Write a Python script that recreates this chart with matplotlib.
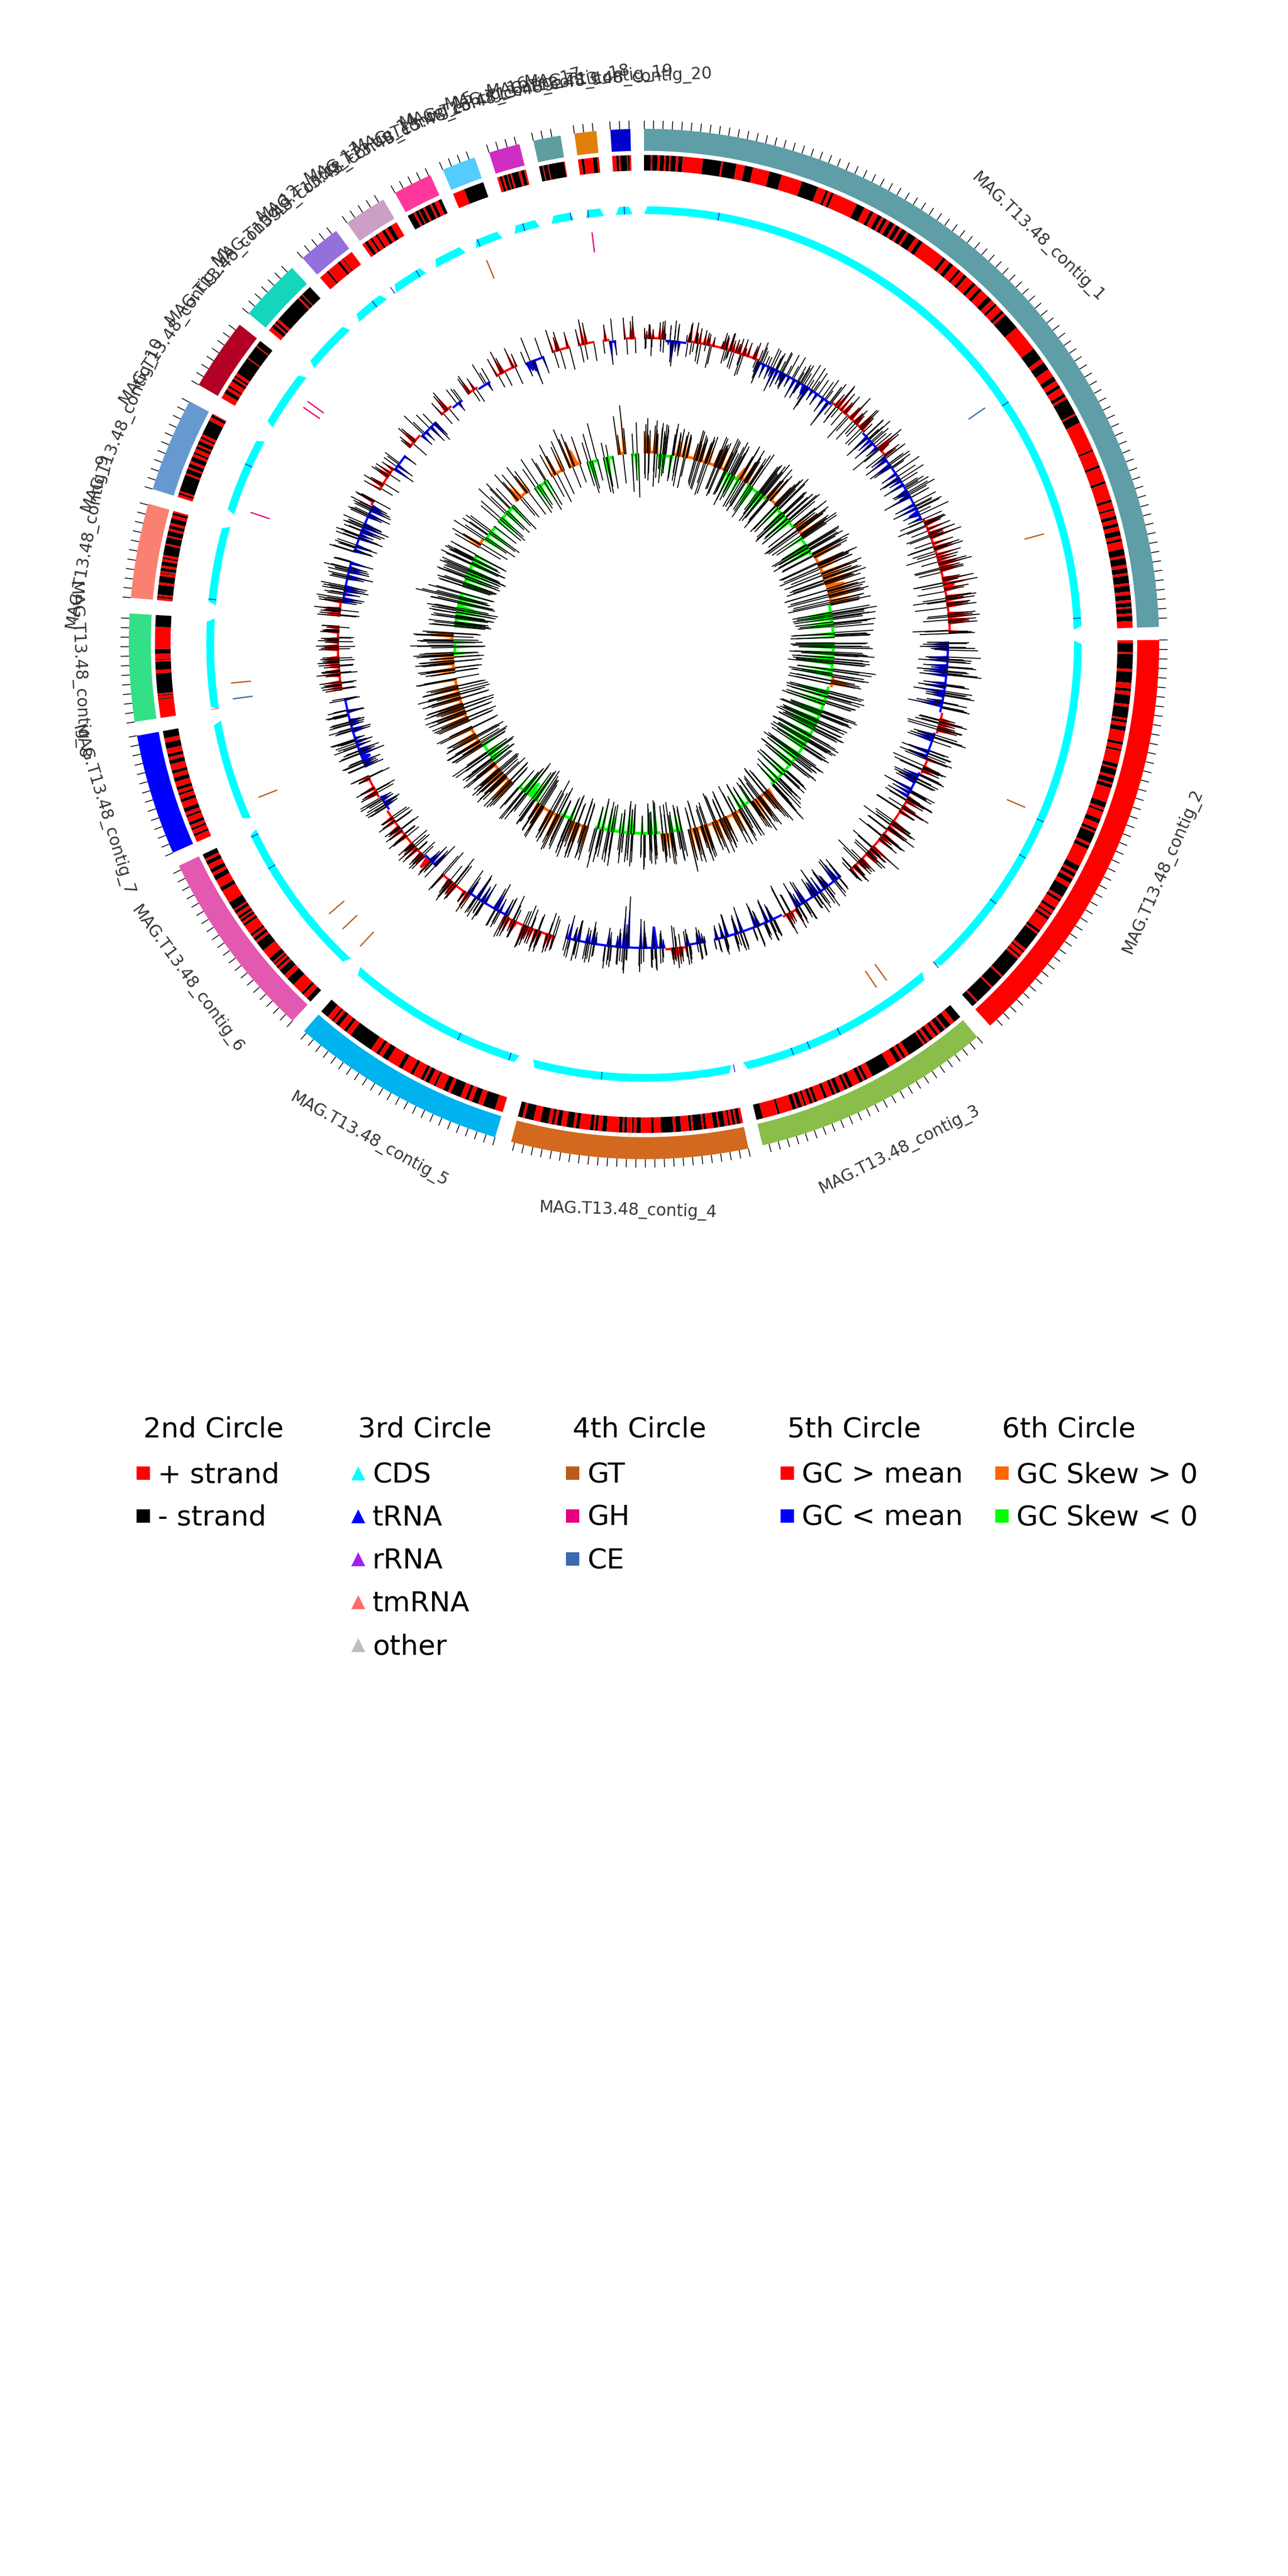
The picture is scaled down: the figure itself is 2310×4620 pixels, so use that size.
"""
Circular genome map of MAG.T13.48, one polar axes plus a pixel axes for the legend.
All values were read by eye from the picture.
"""

import numpy as np
import matplotlib
matplotlib.use("Agg")
import matplotlib.pyplot as plt

# ─── Contigs (clockwise degrees from the top) ─────────────────────────────────
CONTIG_START = [0, 89.55, 139.7, 168.3, 196.8, 223, 246.1, 261.3, 275.15, 287.5,
                300.2, 309.9, 318.5, 324.8, 331.1, 337, 342.5, 347.6, 352.23, 356.25]
CONTIG_END = [88.1, 137.8, 166.7, 194.95, 221.3, 244.5, 259.74, 273.4, 285.8, 298.1,
              308.3, 316.9, 323.3, 329.6, 335.5, 340.8, 346, 350.67, 354.7, 358.48]
CONTIG_COLORS = ["#5F9EA6", "#FF0000", "#8BBD4A", "#D2691E", "#00B2EE", "#E358B0", "#0000FF",
                 "#33E085", "#FA8072", "#6699D0", "#B30025", "#14D6BC", "#9370DB", "#CC9FC6",
                 "#FF369B", "#54CCFF", "#D02EC2", "#5F9EA0", "#E0800B", "#0000CD"]

# ─── 2nd circle: alternating run lengths, red first ───────────────────────────
STR_1 = [0, 8, 2, 6, 3, 5, 2, 4, 2, 6, 3, 5, 24, 22, 2, 16, 10, 10, 20, 15, 25, 20, 10, 3, 4, 3, 30, 10, 8, 4, 6, 5, 3, 4,
         4, 6, 3, 5, 3, 6, 3, 10, 5, 5, 30, 4, 6, 5, 8, 3, 6, 4, 10, 4, 6, 4, 10, 6, 6, 3, 8, 4, 3, 20, 32, 15, 5, 10,
         10, 6, 6, 4, 8, 4, 3, 20, 2, 10, 35, 2, 18, 3, 17, 3, 20, 3, 8, 2, 7, 4, 5, 4, 5, 6, 4, 3, 9, 8, 3, 8, 4, 6, 3, 9, 3, 7, 4, 6, 3, 5, 2, 6, 3, 6, 8]
STR_2 = [3, 10, 2, 16, 3, 12, 6, 3, 4, 10, 3, 12, 2, 3, 4, 5, 12, 3, 5, 2, 14, 4, 2, 7, 3, 5, 2, 4, 16, 6, 3, 2, 8, 5, 6, 3, 2, 12, 3,
         4, 20, 6, 3, 4, 3, 5, 5, 12, 3, 3, 8, 3, 4, 2, 3, 3, 14, 3, 2, 20, 3, 2, 4, 2, 3, 24, 2, 14, 2, 20, 2, 6]
STR_3 = [0, 8, 5, 6, 2, 5, 3, 3, 4, 4, 3, 3, 2, 18, 4, 3, 3, 5, 9, 20, 6, 3, 2, 4, 8, 4, 2, 3, 5, 4, 2, 3, 6, 3, 8, 3, 2, 3, 4, 2, 3, 4, 2, 4, 14, 2, 16, 7]
STR_4 = [3, 4, 2, 3, 3, 2, 4, 6, 2, 5, 8, 3, 2, 10, 2, 3, 9, 6, 3, 14, 8, 3, 12, 5, 3, 2, 6, 3, 2, 4, 14, 5, 5, 3, 2, 4, 12, 4, 3, 8, 6, 5, 3, 3, 4, 9, 8, 10, 3, 5]
STR_5 = [8, 12, 5, 6, 4, 3, 5, 10, 3, 5, 8, 2, 5, 4, 2, 3, 8, 3, 9, 4, 12, 6, 4, 3, 6, 24, 5, 3, 6, 4, 3, 2, 5, 8]
STR_6 = [0, 6, 6, 3, 14, 10, 6, 8, 3, 3, 3, 2, 2, 6, 12, 12, 3, 4, 3, 3, 12, 3, 3, 3, 2, 3, 4, 4, 2, 10, 16, 5, 10, 6, 4, 5, 6, 5, 3, 6]
STR_7 = [6, 2, 4, 2, 3, 3, 5, 2, 3, 4, 6, 3, 4, 2, 3, 3, 5, 4, 4, 3, 6, 4, 3, 3, 5, 6, 4, 7]
STR_8 = [22, 1, 3, 1, 2, 24, 4, 10, 2, 1, 6, 6, 26, 14]
STR_9 = [3, 2, 2, 12, 3, 8, 3, 1, 2, 4, 3, 5, 3, 2, 3, 12, 2, 8, 2, 6, 3, 4, 3, 6, 4, 3, 2]
STR_10 = [3, 2, 2, 18, 2, 5, 2, 4, 3, 5, 3, 2, 4, 3, 2, 4, 3, 2, 3, 16, 4, 3, 1]
STR_11 = [6, 4, 3, 2, 5, 3, 2, 2, 3, 18, 1, 14, 1, 6]
STR_12 = [5, 4, 2, 3, 3, 32, 2, 4, 1, 12]
STR_13 = [10, 2, 14, 3, 4, 1, 12]
STR_14 = [3, 3, 3, 2, 4, 2, 5, 3, 3, 4, 6]
STR_15 = [0, 6, 2, 3, 1, 4, 2, 5, 2, 3, 4, 3]
STR_16 = [14, 24]
STR_17 = [3, 3, 2, 4, 1, 3, 2, 8, 3, 4, 2]
STR_18 = [0, 4, 1, 5, 1, 18, 1]
STR_19 = [4, 3, 10, 5, 2]
STR_20 = [5, 3, 2, 8, 1, 2, 2]

# ─── 5th circle: GC content spikes (outward +, inward -) ──────────────────────
GC_1 = [22, -18, 30, 12, -16, 34, -24, 18, 38, -10, 26, -52, 40, -22, 28, 14, -30, 36, -18, 42, 20, -36, 30, -12, 24, -44,
        16, 34, -28, 26, -14, 38, -32, 20, 32, -22, -40, 28, 36, -16, 24, -46, 32, 18, -28, 40, -20, 30, -38, 22, 44, -18, -30,
        26, 48, -42, 20, -26, 34, 42, -54, 18, 50, -24, 36, -34, 46, 22, -60, 38, 28, -30, 56, -22, 44, -36, 30, 58, -48, 26,
        -28, 52, 34, -40, 24, 46, -56, 36, -32, 30, 42, -66, 50, 22, -44, 38, -34, 48, 28, -50, 44, 26, -38, 54, -28, 36,
        -46, 30, 42, -32, 58, -24, 40, 34, -52, 48, 26, -36, 62, -30, 44, 38, -58, 50, -34, 46, 30, -42, 66, -48, 54, 28,
        -38, 52, -62, 44, 36, 68, -52, 48, 32, -60, 70, -44, 50, 40, -54, 62, 36, -66, 48, 56, -40, 64, -50, 42, 58, -72, 38, 52]
GC_2 = [-44, 36, -58, 52, -30, 64, -40, 46, 34, -50, 56, -62, 42, 30, 68, -46, 38, -56, 54, 44, -38, 60, -34, 48, -70,
        50, 32, -42, 58, -48, 36, 52, -60, 46, -36, 66, -54, 40, -44, 48, 38, -58, 44, -66, 50, 36, -48, 42, 54, -52, 46, -40, 38,
        -62, 34, 48, -46, 56, 40, -38, 30, 62, -54, 36, -42, 44, 58, -34, 46, 66, -44, 40, 50, -56, 34, 70, -36, 42, 24, 48, -32,
        38, 26, -58, 36, 30, 44, -28, 34, 24]
GC_3 = [-46, 24, -38, 30, -52, 20, -30, 44, -42, 28, 36, -60, 22, -34, 26, 40, -48, 32, -28, 38, -56, 30, 24, -40, 46,
        -64, 34, 28, -36, 42, -50, 26, 34, -30, 38, -44, 22, 30, -54, 36, 24, -34, 28, -46, 20, 34, -26, 26, -30, 18]
GC_4 = [-14, 26, -28, 32, -22, 18, 36, -34, 22, 30, -26, 42, -40, 24, 34, -18, 28, -30, 44, 20, -36, 38, -24, -56, 30, 46,
        -104, 22, 50, -84, 26, -38, 32, 28, -30, 36, 44, -26, 24, -46, 30, 38, -32, 34, -42, 26, -28, 36, -50, 24]
GC_5 = [-34, 32, 26, -44, 40, 30, 36, -28, 46, 34, -38, 28, 42, -30, 50, -24, 38, -52, 30, -42, 44, -36, 26, 34, -60, 36, -46,
        30, -32, 28, 40, -56, 24, 34, -40, 30, 26, -48, 38, -62, 28, 42, 34, -58, 44]
GC_6 = [-56, -30, 24, -44, 30, 36, -26, 28, 34, -22, 40, -36, 28, 24, 38, -30, 44, -24, 32, -42, 30, 26, -34, 40, -38, 28,
        36, -28, 44, -36, 30, 48, -24, 38, 34, -30, 42, 26, -44, 36]
GC_7 = [-40, 36, -28, 44, 30, -52, 38, -34, 26, 48, -30, 42, -24, 36, 50, -38, 30, 46, -28, 34, 40, -32, 28, 44, -36, 38, 30, -26]
GC_8 = [34, -24, 42, 36, -30, 30, 48, -22, 38, 32, -28, 44, 34, 30, -26, 40, 36, -32, 28, 42, 30, -24, 38, 34, 26, 36]
GC_9 = [46, -38, 40, 30, 54, -30, 36, 48, -44, 32, 38, -50, 28, 42, -46, 34, 30, -54, 40, 26, -42, 36, -48, 32]
GC_10 = [50, -40, 34, 42, -34, 46, -52, 30, 38, -44, 26, 40, -56, 32, -38, 36, 42, -48, 34, 30, -42, 46, 38, -36]
GC_11 = [38, -26, 44, 30, -34, 40, 34, -24, 36, 28, -46, 30, -38, 26, 34, -30]
GC_12 = [24, 30, -34, 44, 38, -28, 52, 30, -26, 36, -40, 28, -46, -36]
GC_13 = [32, -26, 40, 46, -30, 34, -22, 30, 26]
GC_14 = [38, 42, -24, 28, -30, 46, 24, -20, 30]
GC_15 = [40, -26, 50, 34, -30, 44, -36, 28]
GC_16 = [24, -30, 50, -24, -52, 40, -36]
GC_17 = [48, -32, 30, 40, -38, 34, -44]
GC_18 = [34, -34, 52, -30, 44, -36]
GC_19 = [-24, 34, -48, 44, -30]
GC_20 = [44, -30, 36, 46, -28]

# second set of GC spikes for the longer contigs, lying between the first set
GCB_1 = [-20, 16, 28, -34, 20, -14, 36, -26, 12, 30, -44, 24, -16, 34, -30, 18, 40, -24, 22, -20, 32, -40, 26, 14, -36, 20,
         30, -22, -18, 36, 24, -34, 28, -44, 34, 16, 30, -24, -36, 42, 26, -30, 18, 38, -50, 24, 36, -28, 42, -34, 20, 46,
         -24, 32, -38, 40, 26, -32, 50, -44, 22, 44, -28, 34, -52, 38, 48, -26, 30, -40, 52, -34, 28, 46, -58, 36, 24, -30, 50,
         -42, 34, 44, -36, 26, 54, -48, 32, 40, -28, 60, -38, 28, 44, -52, 34, 46, -42, 30, 56, -36, 40, -46, 28, 50, -34, 44,
         38, -60, 32, 48, -44, 36, 54, -30, 42, -50, 46, 34, -40, 56, -48, 30, 52, -36, 44, -54, 38, 60, -46, 40, -34, 58, 42,
         -50, 48, -44, 36, 64, -56, 40, 52, -46, 58, -38, 44, 60, -64, 34, 50, -42, 56, -48, 46, -58]
GCB_2 = [40, -52, 34, -36, 58, -46, 30, -60, 44, 50, -34, 38, -48, 60, -56, 36, 46, -42, -64, 40, 52, -38, 30, -54, 44, 56,
         -40, 48, -36, 34, -62, 50, 42, -44, 58, -50, 38, 32, -58, 46, -40, 54, -46, 36, 44, -60, 38, 48, -34, 30, -50, 42, -44,
         52, 36, -40, 28, 58, -48, 40, -32, 50, -56, 34, 44, -38, 52, -64, 30, 42, -46, 56, -36, 28, 46, -50, 26, 40, -34, 30,
         44, -26, 34, 22, -40, 28, 38, -24, 30, -20]
GCB_3 = [-34, 28, -54, 20, 36, -26, 24, -48, 34, -36, 22, 42, -30, 28, -44, 38, 24, -52, 30, -34, 20, 44, -38, 26, 32, -58,
         36, -30, 24, 40, -46, 22, 28, -34, 42, -52, 26, 36, -28, 30, -40, 20, 34, -48, 24, 28, -32, 22, -24, 16]
GCB_4 = [24, -20, 30, -34, 16, 28, -24, 38, -30, 20, 34, -22, 28, -44, 24, 18, -36, 30, 40, -26, 22, 36, -32, 26, -60, 34,
         24, -48, 44, 28, -30, 34, -24, 40, 26, -38, 30, 22, -34, 36, -28, 24, 32, -44, 28, 40, -24, 20, 34, -30]
GCB_5 = [28, -40, 36, -24, 30, 44, -34, 26, 38, -22, 34, -44, 30, 46, -28, 36, -32, 26, 42, -38, 30, 48, -30, 24, 34, -48,
         28, 40, -36, 24, -50, 32, 36, -30, 44, -54, 26, 34, -44, 30, 50, -36, 24, 38, -46]
GCB_6 = [30, -40, 20, 36, -28, 24, 40, -34, 26, -24, 32, 44, -30, 22, -38, 34, 28, -26, 40, -32, 24, 36, -40, 30, 26, -34,
         42, 24, -30, 38, -26, 34, 46, -36, 28, -42, 32, 24, -30, 40]
GCB_7 = [34, -30, 40, -38, 26, 44, -26, 32, -44, 28, 38, -36, 30, 46, -22, 34, -40, 26, 42, -30, 36, -24, 40, 30, -34, 26, -32, 24]
GCB_8 = [-28, 40, 32, -24, 44, 28, -34, 36, 30, -26, 42, 26, -30, 38, 34, -22, 30, 46, -28, 24, 36, -30, 32, 28, -20, 34]
GCB_9 = [-32, 42, 34, -36, 28, 46, -40, 30, 52, -34, 26, 44, -42, 32, 48, -36, 30, 38, -44, 28, 50, -38, 34, 26]
GCB_10 = [42, -36, 30, -46, 38, 32, -42, 48, -30, 36, -50, 34, 28, -40, 44, -32, 36, 30, -46, 38, 26, -34, 42, 30]

# ─── 6th circle: GC skew spikes (outward +, inward -) ─────────────────────────
SK_1 = [44, -50, 70, 36, -40, 56, -66, 48, 40, -30, 62, 46, -44, 36, 58, -52, 42, 54, -34, 48, 30, -60, 44, 52, -38, 46, 34,
        -48, 40, 60, -56, 38, 50, -42, 44, 56, -62, 36, 64, -46, 48, 52, -54, 70, 40, -50, 66, 44, -58, 72, -40, 50, 60, -64,
        42, 68, -52, 46, 74, -56, 62, 48, -60, 78, -46, 54, 66, -70, 50, 72, -58, 44, 76, -62, 56, 48, -72, 70, 52, -66, 84,
        -50, 60, 64, -74, 58, 70, -62, 46, 80, -68, 56, 72, -60, 52, 78, -76, 62, 68, -70, 54, 82, -58, 74, 60, -78, 66, 50,
        -72, 84, 62, -68, 74, -82, 58, 78, 66, -76, 70, -64, 86, 60, -80, 74, 68, -72, 88, -66, 62, 80, -84, 56, 72, -78, 66,
        82, -74, 70, 60, -86, 76, -70, 90, 64, -80, 74, 58, -76, 84, 68, -72, 78, -82, 62, 70, -88]
SK_2 = [-78, 62, -84, 70, -72, 56, -90, 66, 80, -74, 58, -82, 72, -76, 60, 86, -70, 52, -88, 64, -78, 74, 48, -84, 62, -72,
        58, -80, 68, -86, 76, 50, -74, 62, -82, 54, -90, 70, -68, 56, -84, 60, 66, -78, 48, -76, 58, -88, 52, -72, 64, -80, 46,
        -74, 56, -86, 50, 62, -70, 44, -82, 48, 58, -76, 40, -68, 54, -84, 46, -72, 38, 52, -78, 44, -66, 36, 48, -62, 42, 56,
        -70, 34, 50, -58, 40, 72, -52, 44, 62, 92]
SK_3 = [80, -52, 64, 44, -58, 72, 38, -46, 60, 54, -50, 66, 32, -40, 58, 70, -44, 52, 36, -56, 62, 48, -34, 74, 42, -60,
        56, 30, -48, 66, 52, -38, 44, 70, -54, 36, 60, -46, 50, 68, -42, 58, 34, 72, -50, 56, 46, -36, 64, 78]
SK_4 = [52, -44, 60, 34, -54, 48, 40, -36, 62, 30, -58, 44, 54, -40, 36, -64, 50, 42, -46, 58, 32, -52, 46, 64, -38, 40,
        -60, 56, 30, -48, 52, -66, 44, 38, -42, 60, 34, -56, 50, -34, 62, 42, -46, 54, -58, 36, 66, -44, 80, 48]
SK_5 = [70, -48, 62, 44, -56, 72, 40, -38, 66, 54, -52, 78, 46, -44, 60, 70, -36, 56, 74, -50, 48, 64, -42, 68, 52, -46,
        72, 58, -60, 44, -66, 62, 38, -72, 52, 60, -64, 42, -78, 48, -62, 70, -50, 44, 56]
SK_6 = [60, -42, 72, 54, -50, 66, 46, 78, -38, 58, 70, -44, 62, 50, -46, 74, 56, -40, 68, -52, 60, 48, -58, 80, 52, -48, 64,
        -54, 70, 44, -62, 76, 56, -50, 66, -46, 60, 72, -56, 50]
SK_7 = [66, -52, 74, 58, -44, 80, 60, -56, 70, 50, -62, 82, 54, -48, 76, 62, -58, 68, 48, -52, 86, 64, -60, 72, 56, -50, 78, 66]
SK_8 = [50, -46, 70, 58, -54, 62, 78, -42, 66, 48, -60, 74, 56, -50, 68, 44, -64, 86, 52, -58, 72, 60, -40, 80, 54, -48]
SK_9 = [-62, 44, -70, -56, 52, -66, 38, -74, -60, 46, -80, 50, -68, 60, 42, -76, 54, -72, 88, -64, 48, -58, 66, -70]
SK_10 = [-58, 50, -68, 44, -62, -74, 56, 40, -70, 48, -66, 60, -78, 46, -64, 54, 66, -72, 52, -60, 42, 58, -70, 46]
SK_11 = [56, -48, 66, 42, -60, 72, -52, 48, -70, 60, 44, -64, 58, -72, 50, -56]
SK_12 = [-60, 46, -66, 52, -58, 72, -50, 44, -62, 56, 68, -54, 48, -66]
SK_13 = [70, 48, -44, 60, -52, 66, 42, -56, 50]
SK_14 = [-60, 44, -54, 62, -48, -66, 52, 40, -58]
SK_15 = [50, -46, 68, 42, -62, 54, -50, 64]
SK_16 = [84, 62, -44, 70, 52, -38, 58]
SK_17 = [-50, 40, -66, 56, -58, 74, -44]
SK_18 = [-70, 30, -74, -60, 24, -66]
SK_19 = [78, 40, -58, 98, 52]
SK_20 = [-76, 40, -54, 62, -88]

# second set of skew spikes for the longer contigs
SKB_1 = [-42, 58, 38, -54, 46, -36, 66, 34, -48, 52, -58, 40, 60, -38, 50, -46, 34, 64, -50, 44, -40, 56, 36, -62, 48, 42,
         -44, 62, -52, 34, 54, -58, 46, 40, -66, 50, 58, -48, 38, 62, -60, 44, 56, -52, 68, -44, 48, -70, 60, 42, -56, 66, -48,
         52, 76, -62, 44, -68, 58, 50, -58, 72, 46, -72, 62, -54, 70, 52, -66, 60, 80, -56, 48, -74, 66, 58, -64, 76, -60, 50,
         72, -70, 62, 54, -78, 68, -58, 74, 56, -72, 64, 82, -66, 50, -80, 70, 60, -74, 62, 84, -62, 56, -82, 72, 64, -68, 76,
         58, -84, 66, 78, -70, 60, -78, 86, 68, -64, 72, -86, 56, 76, -74, 62, 80, -66, 70, 58, -80, 74, -88, 64, 78, -70, 60,
         -84, 72, 66, -76, 82, 58, -80, 70, -72, 64, 86, -78, 60, 74, -68, 56, 80, -86, 66, 72, -76]
SKB_2 = [66, -88, 54, -70, 76, -80, 60, -66, 48, -84, 70, 58, -76, 64, -92, 54, -72, 78, -62, 46, -82, 66, -70, 58, 50, -86,
         72, -64, 56, -78, 44, -84, 68, 60, -72, 52, -80, 46, 74, -66, 58, -88, 50, 62, -74, 44, -82, 56, -68, 48, 60, -78, 52,
         42, -84, 64, -70, 46, 56, -80, 38, -66, 52, 44, -76, 60, -72, 34, 50, -64, 42, 58, -80, 36, -58, 46, 54, -68, 32, 44,
         -52, 60, 38, -46, 66, 36, -40, 54, 70, 84]
SKB_3 = [-46, 70, 52, -62, 40, -50, 64, 48, -36, 76, -54, 44, 62, 34, -48, 58, -40, 68, 46, -52, 54, 72, -30, 50, -44, 66,
         38, -56, 60, 44, -42, 72, 34, -50, 56, -60, 48, 66, -38, 54, 74, -34, 46, 62, -56, 40, 68, -44, 58, 86]
SKB_4 = [-50, 40, 56, -48, 36, -42, 64, 30, -62, 50, -38, 46, 58, -56, 34, 42, -68, 60, 36, -44, 52, -62, 40, 70, -36, 46,
         -54, 34, 64, -50, 38, -58, 56, 30, -48, 44, -40, 68, 36, -52, 46, -60, 58, 32, -64, 50, 40, -46, 60, 38]
SKB_5 = [-44, 56, 68, -50, 38, 62, -42, 74, 50, -56, 44, 60, -48, 72, 40, -34, 64, 50, -60, 78, 44, -46, 58, -70, 62, 48,
         -50, 70, 42, -58, 64, 36, -76, 50, -68, 58, 44, -70, 38, 66, -58, 48, 72, -46, 52]
SKB_6 = [-38, 66, 50, -46, 74, 40, -52, 70, 56, -40, 62, 76, -48, 52, 66, -42, 80, 46, -54, 60, 72, -44, 56, -62, 84, 48,
         -52, 68, 40, -58, 74, 50, -46, 70, -60, 54, 64, -50, 78, 46]
SKB_7 = [-48, 70, 54, -60, 76, 46, -50, 62, 84, -44, 58, 68, -64, 50, 72, -54, 80, 60, -42, 66, 52, -62, 74, 48, -56, 64, 82, -46]
SKB_8 = [60, -40, 54, 74, -48, 66, 50, -56, 70, 40, -52, 64, 80, -46, 58, -60, 72, 48, -44, 66, 56, -50, 76, 46, -54, 62]
SKB_9 = [50, -74, 40, -62, -68, 48, -78, 44, -58, 54, -72, 38, -84, 46, -64, 56, -70, 42, -60, 76, -52, 46, -66, 50]
SKB_10 = [46, -62, 54, -70, 40, -66, 60, -56, 48, -72, 44, -82, 52, -68, 58, -60, 40, -74, 48, 62, -54, 44, -64, 56]

# spacing between neighbouring spikes, they come in clusters with gaps
SPIKE_STEPS = [1, 1, 2, 1, 1, 5, 1, 1, 1, 3, 1, 2, 1, 1, 1, 6, 1, 1, 3, 1, 1, 1, 4, 1, 2, 1, 8, 1, 1, 1, 2, 1, 1, 4, 1, 1, 2, 7]

# coloured runs along the baselines of rings 5 and 6
GC_BLOCK_START = [0, 4, 8, 22, 32, 38, 46, 50, 52, 66, 89.6, 103, 107, 112, 115, 120, 139.7, 150, 153, 168.3, 172, 176,
                  196.8, 207, 215, 223, 226, 229, 237, 240, 246.1, 261.3, 275.15, 278, 287.5, 297, 300.2, 305, 309.9, 313,
                  318.5, 321, 324.8, 327, 331.1, 337, 342.5, 347.6, 352.23, 353.5, 356.25]
GC_BLOCK_END = [4, 8, 22, 32, 38, 46, 50, 52, 66, 88.1, 103, 107, 112, 115, 120, 137.8, 150, 153, 166.7, 172, 176, 194.95,
                207, 215, 221.3, 226, 229, 237, 240, 244.5, 259.74, 273.4, 278, 285.8, 297, 298.1, 305, 308.3, 313, 316.9,
                321, 323.3, 327, 329.6, 335.5, 340.8, 346, 350.67, 353.5, 354.7, 358.48]
GC_BLOCK_SIGN = [1, -1, 1, -1, -1, 1, -1, 1, -1, 1, -1, 1, -1, 1, -1, 1, -1, 1, -1, -1, 1, -1,
                 1, -1, 1, -1, 1, 1, -1, 1, -1, 1, 1, -1, -1, 1, 1, -1, 1, -1,
                 1, -1, 1, -1, 1, -1, 1, 1, 1, -1, 1]
SK_BLOCK_START = [0, 4, 9, 25, 30, 33, 40, 44, 52, 56, 62, 78, 89.6, 100, 103, 139.7, 146, 150, 168.3, 172, 175,
                  196.8, 202, 206, 214, 223, 232, 238, 246.1, 261.3, 267, 271, 275.15, 287.5, 300.2, 303, 309.9,
                  318.5, 324.8, 331.1, 337, 342.5, 347.6, 352.23, 356.25]
SK_BLOCK_END = [4, 9, 25, 30, 33, 40, 44, 52, 56, 62, 78, 88.1, 100, 103, 137.8, 146, 150, 166.7, 172, 175, 194.95,
                202, 206, 214, 221.3, 232, 238, 244.5, 259.74, 267, 271, 273.4, 285.8, 298.1, 303, 308.3, 316.9,
                323.3, 329.6, 335.5, 340.8, 346, 350.67, 354.7, 358.48]
SK_BLOCK_SIGN = [1, -1, 1, -1, 1, -1, 1, -1, 1, -1, 1, -1, -1, 1, -1, 1, -1, 1, -1, 1, -1,
                 1, -1, 1, -1, 1, -1, 1, 1, 1, -1, 1, -1, -1, 1, -1, -1,
                 1, -1, 1, 1, -1, -1, 1, -1]

# the few wide wedges that stand out on the baselines
GC_WEDGE_POS = [32, 60, 64.5, 79, 178, 205, 218.4, 225, 248, 338]
GC_WEDGE_H = [-18, -22, -20, 20, -40, 20, 24, 20, -18, -18]
SK_WEDGE_POS = [30, 73, 140, 164.5, 217, 228, 281, 292, 319, 339, 348.6]
SK_WEDGE_H = [22, 34, 26, 26, -30, 32, -32, -30, 26, 30, -32]

# ─── 3rd / 4th circle features ────────────────────────────────────────────────
TRNA_POS = [9.9, 56.4, 86.6, 114, 119.3, 126.4, 137.7, 153.3, 157.7, 160, 168, 185.6, 198, 205.2, 239.1, 243.8, 275.9,
            294.3, 321.6, 324.6, 328.6, 337.6, 343.9, 350.3, 352.6, 357.4]
TMRNA_POS = [261.4]
GT_POS = [74.6, 113.2, 144.2, 145.9, 223.2, 226.6, 229.4, 248.3, 264.6, 337.7]
GH_POS = [288.5, 304.8, 305.8, 352.8]
CE_POS = [55.3, 262.4]

# ─── Legend texts ─────────────────────────────────────────────────────────────
LEG_TITLES = ["2nd Circle", "3rd Circle", "4th Circle", "5th Circle", "6th Circle"]
LEG_LABELS = [["+ strand", "- strand"], ["CDS", "tRNA", "rRNA", "tmRNA", "other"], ["GT", "GH", "CE"],
              ["GC > mean", "GC < mean"], ["GC Skew > 0", "GC Skew < 0"]]
LEG_COLORS = [["#FF0000", "#000000"], ["#00FFFF", "#0000FF", "#A020F0", "#FF6A6A", "#BEBEBE"],
              ["#B85C1E", "#E6007E", "#3A6BB0"], ["#FF0000", "#0000FF"], ["#FF6600", "#00FF00"]]
LEG_MARKERS = ["s", "^", "s", "s", "s"]

GC_LISTS = [GC_1, GC_2, GC_3, GC_4, GC_5, GC_6, GC_7, GC_8, GC_9, GC_10,
            GC_11, GC_12, GC_13, GC_14, GC_15, GC_16, GC_17, GC_18, GC_19, GC_20]
SK_LISTS = [SK_1, SK_2, SK_3, SK_4, SK_5, SK_6, SK_7, SK_8, SK_9, SK_10,
            SK_11, SK_12, SK_13, SK_14, SK_15, SK_16, SK_17, SK_18, SK_19, SK_20]
GCB_LISTS = [GCB_1, GCB_2, GCB_3, GCB_4, GCB_5, GCB_6, GCB_7, GCB_8, GCB_9, GCB_10]
SKB_LISTS = [SKB_1, SKB_2, SKB_3, SKB_4, SKB_5, SKB_6, SKB_7, SKB_8, SKB_9, SKB_10]
STR_LISTS = [STR_1, STR_2, STR_3, STR_4, STR_5, STR_6, STR_7, STR_8, STR_9, STR_10,
             STR_11, STR_12, STR_13, STR_14, STR_15, STR_16, STR_17, STR_18, STR_19, STR_20]

TICK_STEP = 1.05
R_BAND, R_STRAND, R_CDS, R_MARK = (884.5, 924), (849, 877), (771, 785), (708, 744)
R_GC, R_SK, R_LABEL = 547, 342, 1016


def draw_contig_rings(ax):
    for i, (a, b) in enumerate(zip(CONTIG_START, CONTIG_END)):
        ax.bar(np.radians((a + b) / 2), R_BAND[1] - R_BAND[0], np.radians(b - a), bottom=R_BAND[0],
               color=CONTIG_COLORS[i], linewidth=0)
        ticks = np.arange(a, b + 0.01, TICK_STEP)
        ax.vlines(np.radians(ticks), R_BAND[1], R_BAND[1] + 15, color="k", lw=0.35)

        # strand blocks
        edges = np.concatenate([[0], np.cumsum(STR_LISTS[i])]) / sum(STR_LISTS[i]) * (b - a) + a
        for k in range(len(edges) - 1):
            if edges[k + 1] > edges[k]:
                ax.bar(np.radians((edges[k] + edges[k + 1]) / 2), R_STRAND[1] - R_STRAND[0],
                       np.radians(edges[k + 1] - edges[k]), bottom=R_STRAND[0],
                       color="#FF0000" if k % 2 == 0 else "k", linewidth=0)

        # CDS trapezoid
        taper = 0.45
        th = np.concatenate([np.linspace(a, b, 200), np.linspace(b - taper, a + taper, 200)])
        rr = np.concatenate([np.full(200, R_CDS[0]), np.full(200, R_CDS[1])])
        ax.fill(np.radians(th), rr, color="#00FFFF", linewidth=0)


def draw_features(ax):
    ax.vlines(np.radians(TRNA_POS), R_CDS[0], R_CDS[1], color="#1020E0", lw=0.35)
    ax.vlines(np.radians(TMRNA_POS), R_CDS[0], R_CDS[1], color="#FF6A6A", lw=0.35)
    ax.vlines(np.radians(GT_POS), R_MARK[0], R_MARK[1], color="#B85C1E", lw=0.55)
    ax.vlines(np.radians(GH_POS), R_MARK[0], R_MARK[1], color="#E6007E", lw=0.55)
    ax.vlines(np.radians(CE_POS), R_MARK[0], R_MARK[1], color="#3A6BB0", lw=0.55)


def block_sign(angle, starts, ends, signs):
    for s, e, sg in zip(starts, ends, signs):
        if s <= angle <= e:
            return sg
    return 0


def spike_positions(a, b, n, offset):
    # spikes are spread over the contig using the cluster/gap spacing
    steps = np.resize(SPIKE_STEPS, n)
    pos = np.cumsum(steps) - steps[0]
    pos = pos / max(pos[-1], 1)
    return np.minimum(a + 0.1 + offset + pos * (b - a - 0.2), b - 0.05)


def draw_spike_set(ax, lists, base, col_pos, col_neg, blocks, half_w, offset, scale):
    for i, vals in enumerate(lists):
        a, b = CONTIG_START[i], CONTIG_END[i]
        vals = np.array(vals, dtype=float) * scale
        deg = spike_positions(a, b, len(vals), offset)
        # coloured wedge under the spikes that lie on the side of the current run
        for d, v in zip(deg, vals):
            sg = block_sign(d, *blocks)
            if sg * v > 0:
                w1, w2 = max(a, d - half_w), min(b, d + half_w)
                ax.fill(np.radians([w1, d, w2]), [base, base + v, base],
                        color=col_pos if v > 0 else col_neg, linewidth=0)
        ax.vlines(np.radians(deg), base, base + vals, color="k", lw=0.42)


def draw_spikes(ax, lists, lists_b, base, col_pos, col_neg, blocks, half_w, block_h, wedges, scale):
    for s, e, sg in zip(*blocks):
        ax.bar(np.radians((s + e) / 2), block_h * sg, np.radians(e - s), bottom=base,
               color=col_pos if sg > 0 else col_neg, linewidth=0)
    for pos, h in zip(*wedges):
        w = 380 / base
        ax.fill(np.radians([pos - w, pos - w / 3, pos + w / 3, pos + w]), [base, base + h, base + h, base],
                color=col_pos if h > 0 else col_neg, linewidth=0)
    draw_spike_set(ax, lists, base, col_pos, col_neg, blocks, half_w, 0.0, scale)
    draw_spike_set(ax, lists_b, base, col_pos, col_neg, blocks, half_w, 0.12, scale)


def draw_labels(ax):
    for i, (a, b) in enumerate(zip(CONTIG_START, CONTIG_END)):
        mid = (a + b) / 2
        rot = -mid
        if 90 < mid < 270:
            rot = 180 - mid
        ax.text(np.radians(mid), R_LABEL, f"MAG.T13.48_contig_{i + 1}", rotation=rot,
                rotation_mode="anchor", ha="center", va="center", fontsize=7.1, color="#333333")


def draw_legend(fig):
    leg = fig.add_axes([0, 0, 1, 1])
    leg.set_xlim(0, 2310)
    leg.set_ylim(4620, 0)
    leg.axis("off")
    leg.patch.set_alpha(0)
    for c, title in enumerate(LEG_TITLES):
        x0 = 257 + 385 * c
        leg.text(x0, 2563, title, fontsize=12, va="center", ha="left", color="k")
        for k, (lab, col) in enumerate(zip(LEG_LABELS[c], LEG_COLORS[c])):
            y = 2640 + 77 * k
            size = 36 if LEG_MARKERS[c] == "^" else 32
            leg.scatter([x0], [y + 2], s=size, marker=LEG_MARKERS[c], color=col, linewidth=0)
            leg.text(x0 + 26, y + 5, lab, fontsize=12, va="center", ha="left", color="k")


def main():
    fig = plt.figure(figsize=(7.7, 15.4), dpi=300)
    ax = fig.add_axes([0, 0.5, 1, 0.5], projection="polar")
    ax.set_theta_zero_location("N")
    ax.set_theta_direction(-1)
    ax.set_ylim(0, 1155)
    ax.axis("off")

    draw_contig_rings(ax)
    draw_features(ax)
    gc_blocks = (GC_BLOCK_START, GC_BLOCK_END, GC_BLOCK_SIGN)
    sk_blocks = (SK_BLOCK_START, SK_BLOCK_END, SK_BLOCK_SIGN)
    draw_spikes(ax, GC_LISTS, GCB_LISTS, R_GC, "#FF0000", "#0000FF", gc_blocks, 0.35, 4,
                (GC_WEDGE_POS, GC_WEDGE_H), 0.9)
    draw_spikes(ax, SK_LISTS, SKB_LISTS, R_SK, "#FF6600", "#00FF00", sk_blocks, 0.5, 5,
                (SK_WEDGE_POS, SK_WEDGE_H), 0.9)
    draw_labels(ax)
    draw_legend(fig)
    fig.savefig("out.png", dpi=300)


if __name__ == "__main__":
    main()
